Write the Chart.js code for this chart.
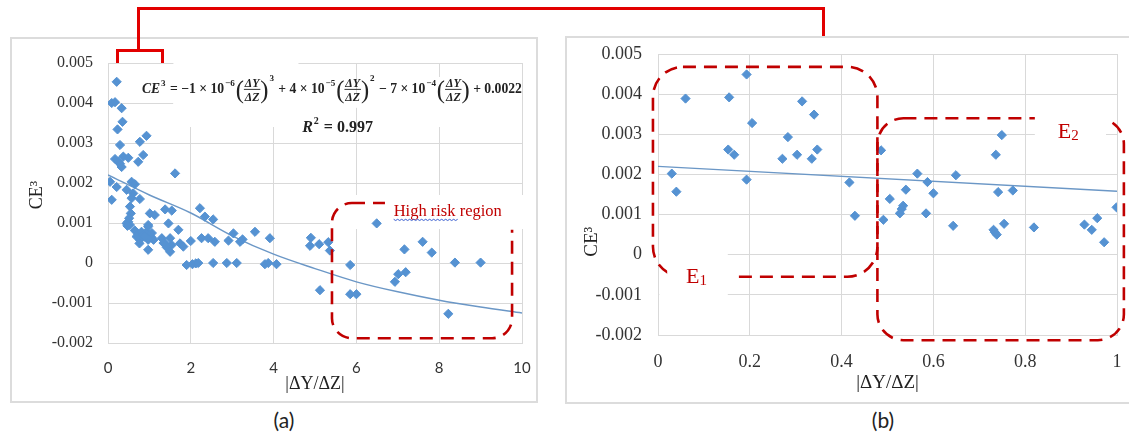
<!DOCTYPE html>
<html>
<head>
<meta charset="utf-8">
<script src="https://cdn.jsdelivr.net/npm/chart.js@4.4.0/dist/chart.umd.min.js"></script>
<style>
  body { margin: 0; width: 1129px; height: 435px; background: #fff; position: relative; overflow: hidden; }
  .panel { position: absolute; border: 2px solid #dcdcdc; box-sizing: border-box; }
  .red { position: absolute; background: #e20000; }
  .cap { position: absolute; width: 60px; text-align: center; font: 21px Lato, sans-serif; color: #222; line-height: 24px; }
  .box { position: absolute; }
</style>
</head>
<body>
<div class="panel" style="left:10px;top:37px;width:528px;height:366px"></div>
<div class="panel" style="left:565px;top:36px;width:580px;height:368px"></div>

<div class="box" style="left:10px;top:37px;width:527px;height:365px"><canvas id="chartA"></canvas></div>
<div class="box" style="left:565px;top:36px;width:564px;height:367px"><canvas id="chartB"></canvas></div>

<div class="red" style="left:137px;top:7px;width:688px;height:3px"></div>
<div class="red" style="left:137px;top:7px;width:3px;height:44px"></div>
<div class="red" style="left:822px;top:7px;width:3px;height:29px"></div>
<div class="red" style="left:116px;top:49px;width:48px;height:3px"></div>
<div class="red" style="left:116px;top:49px;width:3px;height:14px"></div>
<div class="red" style="left:161px;top:49px;width:3px;height:14px"></div>

<div class="cap" style="left:254px;top:408px">(a)</div>
<div class="cap" style="left:853px;top:408px">(b)</div>

<script>
// ---- panel (a): all samples, |dY/dZ| from 0 to 10
const xA = [0.21, 0.09, 0.17, 0.33, 0.35, 0.23, 0.93, 0.77, 0.29, 0.85, 0.17, 0.37, 0.49, 0.25, 0.33, 0.29, 0.73, 1.62,
  0.05, 0.21, 0.45, 0.57, 0.65, 0.61, 0.57, 0.77, 0.09, 0.53, 0.55, 0.49, 0.53, 0.45, 0.51, 0.47, 1.01, 1.13, 1.38, 1.54, 1.46, 0.97,
  0.65, 0.73, 0.81, 0.69, 0.77, 0.93, 0.97, 1.01, 1.05, 1.10, 0.97, 0.85, 0.76, 0.97, 0.89, 1.06,
  1.70, 1.30, 1.38, 1.50, 1.54, 1.42, 1.50, 1.34, 1.74, 1.82, 2.00,
  2.22, 2.34, 2.54, 2.26, 2.42, 2.58, 2.91, 3.03, 3.19, 3.25, 3.55, 3.91,
  1.90, 2.04, 2.12, 2.18, 2.54, 2.87, 3.11, 3.79, 3.87, 4.07,
  4.90, 4.88, 5.10, 5.32, 5.36, 5.12, 5.85, 5.85, 6.00, 6.49, 6.93, 7.01, 7.19, 7.16, 7.60, 7.82, 8.38, 9.00, 8.22];
const yA = [0.00453, 0.0040, 0.00402, 0.00387, 0.00353, 0.00334, 0.00318, 0.00303, 0.00295, 0.0027, 0.0026, 0.00266, 0.00263, 0.00253, 0.0024, 0.00248, 0.00253, 0.00224,
  0.00203, 0.0019, 0.00183, 0.00203, 0.00197, 0.00174, 0.00162, 0.0016, 0.00158, 0.00141, 0.00124, 0.00103, 0.00095, 0.00099, 0.00112, 0.00093, 0.00124, 0.0012, 0.00134, 0.00131, 0.00099, 0.00095,
  0.00081, 0.00072, 0.00078, 0.00066, 0.00058, 0.00078, 0.00091, 0.0007, 0.00064, 0.00058, 0.00058, 0.0007, 0.00049, 0.00033, 0.00066, 0.00075,
  0.00083, 0.00062, 0.00049, 0.00062, 0.00045, 0.00039, 0.00028, 0.0005, 0.00049, 0.00041, 0.00055,
  0.00137, 0.00116, 0.00109, 0.00062, 0.00062, 0.00053, 0.00056, 0.00074, 0.00053, 0.00059, 0.00078, 0.00062,
  -0.00005, -0.00003, -0.00001, 0, 0, 0, 0, -0.00003, 0, -0.00003,
  0.00063, 0.00043, 0.00047, 0.00052, 0.00031, -0.00068, -0.00005, -0.00078, -0.00078, 0.00099, -0.00047, -0.00028, -0.00023, 0.00034, 0.00053, 0.00026, 0.00001, 0.00001, -0.00127];
// trendline
const trendAx = [0, 1, 2, 3, 4, 5, 6, 7, 8, 9, 10];
const trendAy = [0.0022, 0.0017, 0.00125, 0.00068, 0.00022, -0.00014, -0.00047, -0.00072, -0.00093, -0.0011, -0.00125];

// ---- panel (b): zoom on 0..1
const xB = [0.03, 0.04, 0.06, 0.155, 0.153, 0.166, 0.193, 0.205, 0.193, 0.271, 0.283, 0.303, 0.314, 0.335, 0.34, 0.347, 0.417, 0.429, 0.486, 0.491,
  0.505, 0.54, 0.534, 0.531, 0.527, 0.565, 0.587, 0.584, 0.60, 0.649, 0.643, 0.749, 0.736, 0.741, 0.773, 0.731, 0.734, 0.738, 0.754, 0.819,
  0.929, 0.945, 0.957, 0.972, 0.999];
const yB = [0.00202, 0.00157, 0.00389, 0.00392, 0.00262, 0.00249, 0.00449, 0.00328, 0.00187, 0.00239, 0.00293, 0.00249, 0.00382, 0.00239, 0.00349, 0.00262, 0.0018, 0.00097, 0.0026, 0.00087,
  0.00139, 0.00162, 0.00122, 0.00114, 0.00103, 0.00202, 0.00181, 0.00103, 0.00153, 0.00198, 0.00072, 0.00298, 0.00249, 0.00156, 0.0016, 0.00062, 0.00056, 0.0005, 0.00077, 0.00068,
  0.00075, 0.00062, 0.00091, 0.00031, 0.00118];
const trendBx = [0, 1];
const trendBy = [0.0022, 0.00158];

const yTicks = [-0.002, -0.001, 0, 0.001, 0.002, 0.003, 0.004, 0.005];
const xTicksA = [0, 2, 4, 6, 8, 10];
const xTicksB = [0, 0.2, 0.4, 0.6, 0.8, 1];

const blue = '#5592d2';
const trendColor = '#6b97c6';
const darkRed = '#c00000';
const serif = '"Liberation Serif", "Times New Roman", serif';

function pts(xs, ys) {
  return xs.map((x, i) => ({ x: x, y: ys[i] }));
}

// rounded rectangle outline
function roundBox(ctx, x0, y0, x1, y1, r) {
  ctx.beginPath();
  ctx.moveTo(x0 + r, y0);
  ctx.arcTo(x1, y0, x1, y1, r);
  ctx.arcTo(x1, y1, x0, y1, r);
  ctx.arcTo(x0, y1, x0, y0, r);
  ctx.arcTo(x0, y0, x1, y0, r);
  ctx.closePath();
}

function px(chart, x, y) {
  return [chart.scales.x.getPixelForValue(x), chart.scales.y.getPixelForValue(y)];
}

function whiteRect(chart, x0, y0, x1, y1) {
  const a = px(chart, x0, y0), b = px(chart, x1, y1);
  chart.ctx.fillStyle = '#fff';
  chart.ctx.fillRect(Math.min(a[0], b[0]), Math.min(a[1], b[1]), Math.abs(b[0] - a[0]), Math.abs(b[1] - a[1]));
}

// dashed red box, with a part cut out where a label sits
function dashedBox(chart, box, gap, r) {
  const ctx = chart.ctx;
  const a = px(chart, box[0], box[1]), b = px(chart, box[2], box[3]);
  ctx.save();
  if (gap) {
    const g0 = px(chart, gap[0], gap[1]), g1 = px(chart, gap[2], gap[3]);
    ctx.beginPath();
    ctx.rect(0, 0, chart.width, chart.height);
    ctx.rect(Math.min(g0[0], g1[0]), Math.min(g0[1], g1[1]), Math.abs(g1[0] - g0[0]), Math.abs(g1[1] - g0[1]));
    ctx.clip('evenodd');
  }
  ctx.setLineDash([13, 8]);
  ctx.lineWidth = 2.6;
  ctx.strokeStyle = darkRed;
  roundBox(ctx, Math.min(a[0], b[0]), Math.min(a[1], b[1]), Math.max(a[0], b[0]), Math.max(a[1], b[1]), r);
  ctx.stroke();
  ctx.restore();
}

// rotated axis title "CE³", centred on a given y value
function yTitle(chart, v, size) {
  const ctx = chart.ctx;
  ctx.save();
  ctx.translate(27, chart.scales.y.getPixelForValue(v));
  ctx.rotate(-Math.PI / 2);
  ctx.font = size + 'px ' + serif;
  ctx.fillStyle = '#222';
  ctx.textAlign = 'center';
  ctx.textBaseline = 'middle';
  ctx.fillText('CE\u00b3', 0, 0);
  ctx.restore();
}

// the fitted polynomial, typeset by hand
const formulaParts = [
  ['i', 'CE'], ['s', '3'], ['t', ' = \u22121 \u00d7 10'], ['s', '\u22126'], ['f', ''], ['S', '3'],
  ['t', ' + 4 \u00d7 10'], ['s', '\u22125'], ['f', ''], ['S', '2'],
  ['t', ' \u2212 7 \u00d7 10'], ['s', '\u22124'], ['f', ''], ['t', ' + 0.0022']
];
function layFormula(ctx, draw) {
  let cx = 0;
  for (const [k, s] of formulaParts) {
    if (k === 't' || k === 'i') {
      ctx.font = (k === 'i' ? 'italic ' : '') + 'bold 15px ' + serif;
      if (draw) ctx.fillText(s, cx, 0);
      cx += ctx.measureText(s).width;
    } else if (k === 's' || k === 'S') {
      ctx.font = 'bold 10px ' + serif;
      if (draw) ctx.fillText(s, cx + 1, k === 'S' ? -13 : -8);
      cx += ctx.measureText(s).width + 2;
    } else {
      ctx.font = '27px ' + serif;
      const pw = ctx.measureText('(').width;
      if (draw) ctx.fillText('(', cx, 5);
      cx += pw;
      ctx.font = 'italic bold 13px ' + serif;
      const w = Math.max(ctx.measureText('\u0394Y').width, ctx.measureText('\u0394Z').width) + 2;
      if (draw) {
        ctx.textAlign = 'center';
        ctx.fillText('\u0394Y', cx + w / 2, -7);
        ctx.fillText('\u0394Z', cx + w / 2, 8.5);
        ctx.textAlign = 'left';
        ctx.fillRect(cx, -4.5, w, 1);
      }
      cx += w;
      ctx.font = '27px ' + serif;
      if (draw) ctx.fillText(')', cx, 5);
      cx += pw;
    }
  }
  return cx;
}

const notesA = {
  id: 'notesA',
  beforeDatasetsDraw(chart) {
    // label boxes with white fill hide the grid
    whiteRect(chart, 1.58, 0.005, 4.6, 0.0034);
    whiteRect(chart, 1.58, 0.00412, 10, 0.00388);
    whiteRect(chart, 7.5, 0.00465, 8.5, 0.0034);
    whiteRect(chart, 5.36, 0.0017, 10.1, 0.00085);
    yTitle(chart, 0.0017, 18);
  },
  afterDatasetsDraw(chart) {
    const ctx = chart.ctx;
    dashedBox(chart, [5.41, 0.0015, 9.76, -0.00188], [6.69, 0.0019, 10.2, 0.00083], 20);

    ctx.save();
    const [tx, ty] = px(chart, 6.9, 0.00118);
    ctx.font = '16.5px ' + serif;
    ctx.fillStyle = darkRed;
    ctx.textBaseline = 'alphabetic';
    ctx.fillText('High risk region', tx, ty);
    // spell-check squiggle under "High risk"
    ctx.strokeStyle = '#3b5fd0';
    ctx.lineWidth = 1;
    ctx.beginPath();
    for (let i = 0; i <= 32; i++) {
      const sx = tx + i * 2, sy = ty + 3.5 + (i % 2 ? 1.2 : 0);
      if (i === 0) ctx.moveTo(sx, sy); else ctx.lineTo(sx, sy);
    }
    ctx.stroke();

    // equation
    const [fx, fy] = px(chart, 0.82, 0.00425);
    const w = layFormula(ctx, false);
    const s = 380 / w;
    ctx.fillStyle = '#222';
    ctx.translate(fx, fy);
    ctx.scale(s, s);
    layFormula(ctx, true);
    ctx.setTransform(1, 0, 0, 1, 0, 0);
    ctx.restore();

    ctx.save();
    const [rx, ry] = px(chart, 4.69, 0.00328);
    ctx.fillStyle = '#222';
    ctx.font = 'italic bold 16px ' + serif;
    ctx.fillText('R', rx, ry);
    let cx = rx + ctx.measureText('R').width;
    ctx.font = 'bold 10px ' + serif;
    ctx.fillText('2', cx + 1, ry - 8);
    cx += ctx.measureText('2').width + 2;
    ctx.font = 'bold 16px ' + serif;
    ctx.fillText(' = 0.997', cx, ry);
    ctx.restore();
  }
};

function subLabel(ctx, x, y, main, sub, size) {
  ctx.font = size + 'px ' + serif;
  ctx.fillText(main, x, y);
  const w = ctx.measureText(main).width;
  ctx.font = Math.round(size * 0.7) + 'px ' + serif;
  ctx.fillText(sub, x + w, y + 2);
}

const notesB = {
  id: 'notesB',
  beforeDatasetsDraw(chart) {
    whiteRect(chart, 0.003, 0.0001, 0.152, -0.00115);
    whiteRect(chart, 0.821, 0.0036, 0.976, 0.0026);
    yTitle(chart, 0.000325, 19);
  },
  afterDatasetsDraw(chart) {
    const ctx = chart.ctx;
    dashedBox(chart, [-0.011, 0.00468, 0.478, -0.00055], [0.02, -0.0002, 0.162, -0.001], 30);
    dashedBox(chart, [0.478, 0.0034, 1.015, -0.00213], [0.821, 0.0039, 0.976, 0.0026], 26);
    ctx.save();
    ctx.fillStyle = darkRed;
    let p = px(chart, 0.061, -0.0007);
    subLabel(ctx, p[0], p[1], 'E', '1', 22);
    p = px(chart, 0.871, 0.00291);
    subLabel(ctx, p[0], p[1], 'E', '2', 22);
    ctx.restore();
  }
};

function axes(opt) {
  return {
    x: {
      type: 'linear', min: opt.xTicks[0], max: opt.xTicks[opt.xTicks.length - 1],
      afterBuildTicks: s => { s.ticks = opt.xTicks.map(v => ({ value: v })); },
      ticks: {
        padding: opt.xPad, color: '#333',
        font: { family: opt.xFont, size: opt.xSize },
        callback: v => String(Math.round(v * 10) / 10)
      },
      grid: { color: '#d9d9d9', lineWidth: 1, drawTicks: false },
      border: { color: '#d9d9d9' },
      title: {
        display: true, text: '|\u0394Y/\u0394Z|', color: '#222',
        font: { family: serif, size: opt.titleSize }, padding: { top: 0, bottom: opt.xTitlePad }
      },
      afterFit: s => { s.height = opt.xHeight; s.paddingLeft = 0; s.paddingRight = 0; }
    },
    y: {
      type: 'linear', min: -0.002, max: 0.005,
      afterBuildTicks: s => { s.ticks = yTicks.map(v => ({ value: v })); },
      ticks: {
        padding: opt.yPad, color: '#333',
        font: { family: serif, size: opt.ySize },
        callback: v => String(Math.round(v * 1000) / 1000)
      },
      grid: { color: '#d9d9d9', lineWidth: 1, drawTicks: false },
      border: { color: '#d9d9d9' },
      title: { display: false },
      afterFit: s => { s.width = opt.yWidth; s.paddingTop = 0; s.paddingBottom = 0; }
    }
  };
}

function scatterSet(xs, ys) {
  return {
    data: pts(xs, ys), pointStyle: 'rectRot', pointRadius: 4.6, pointHoverRadius: 4.6,
    backgroundColor: blue, borderColor: blue, borderWidth: 1, order: 0
  };
}
function trendSet(xs, ys) {
  return {
    type: 'line', data: pts(xs, ys), borderColor: trendColor, borderWidth: 1.4,
    pointRadius: 0, cubicInterpolationMode: 'monotone', fill: false, order: 1
  };
}

new Chart(document.getElementById('chartA'), {
  type: 'scatter',
  data: { datasets: [scatterSet(xA, yA), trendSet(trendAx, trendAy)] },
  options: {
    responsive: true, maintainAspectRatio: false, animation: false,
    layout: { padding: { top: 26, right: 15, left: 0, bottom: 0 } },
    plugins: { legend: { display: false }, tooltip: { enabled: false } },
    scales: axes({
      xTicks: xTicksA, xPad: 16, xFont: 'Lato', xSize: 15, titleSize: 18, xTitlePad: 7, xHeight: 59,
      yPad: 15, ySize: 16, yWidth: 98
    })
  },
  plugins: [notesA]
});

new Chart(document.getElementById('chartB'), {
  type: 'scatter',
  data: { datasets: [scatterSet(xB, yB), trendSet(trendBx, trendBy)] },
  options: {
    responsive: true, maintainAspectRatio: false, animation: false,
    layout: { padding: { top: 18, right: 12, left: 0, bottom: 0 } },
    plugins: { legend: { display: false }, tooltip: { enabled: false } },
    scales: axes({
      xTicks: xTicksB, xPad: 16, xFont: serif, xSize: 18, titleSize: 19, xTitlePad: 9, xHeight: 68,
      yPad: 16, ySize: 18, yWidth: 93
    })
  },
  plugins: [notesB]
});
</script>
</body>
</html>
